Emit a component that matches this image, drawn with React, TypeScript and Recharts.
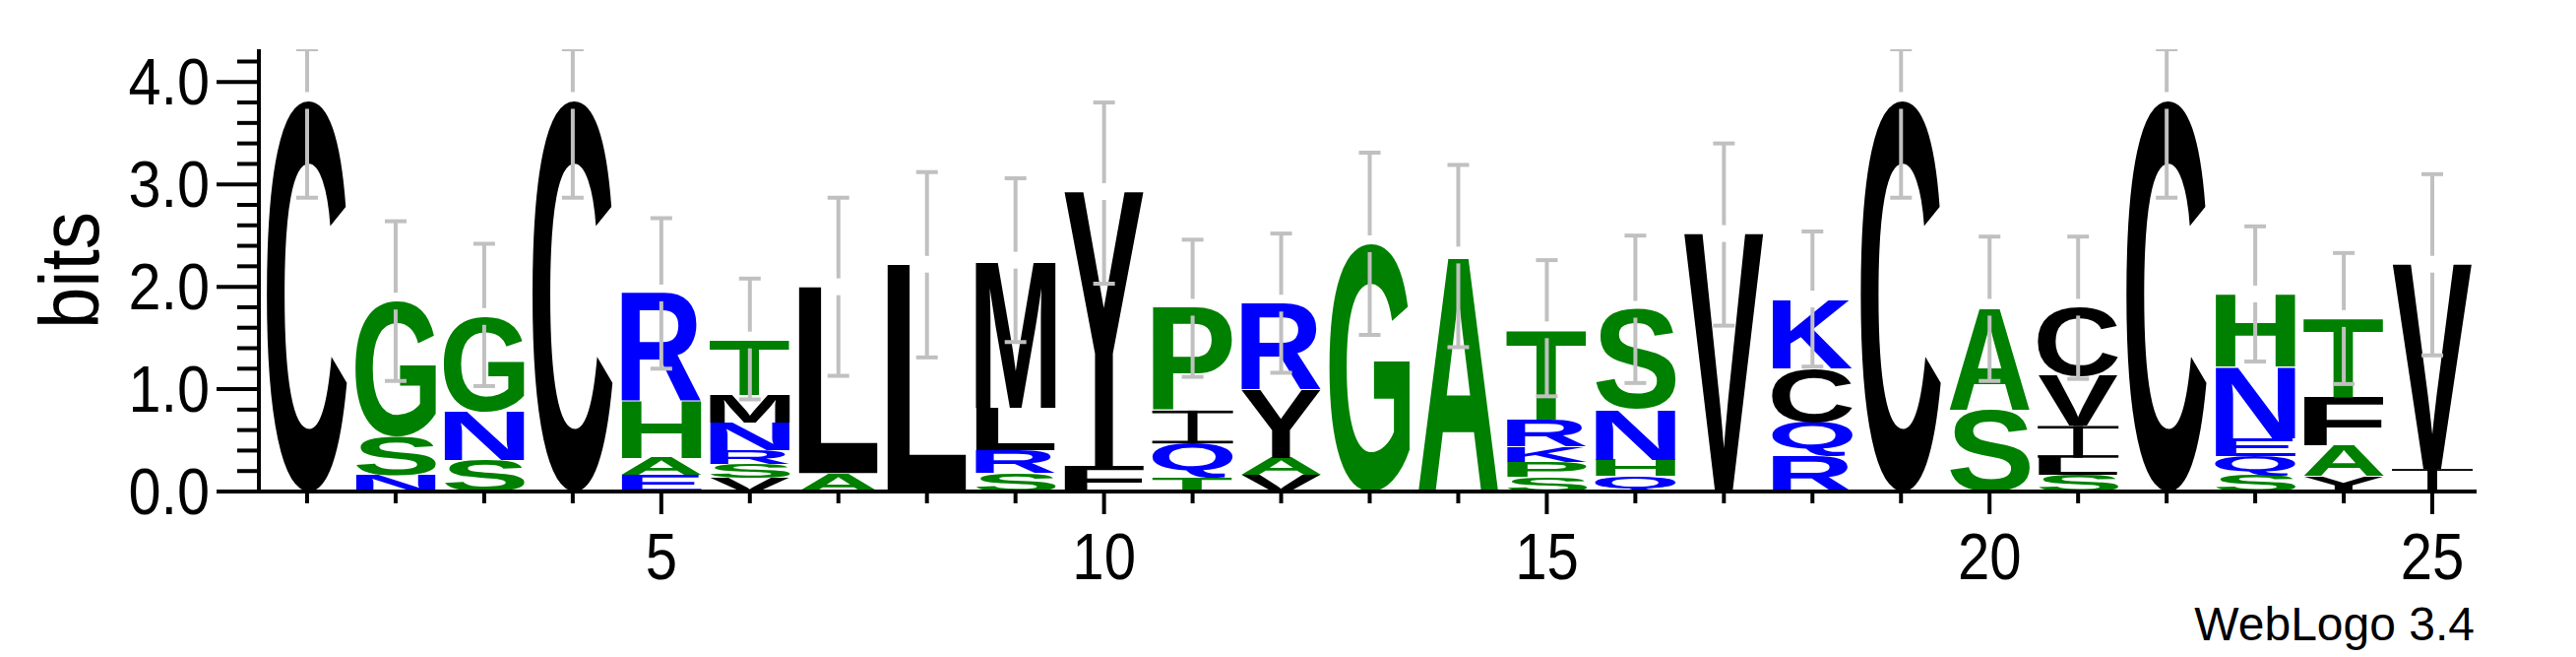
import { BarChart, Bar, XAxis, YAxis } from 'recharts';

// sequence positions
const positions = [1, 2, 3, 4, 5, 6, 7, 8, 9, 10, 11, 12, 13, 14, 15, 16, 17, 18, 19, 20, 21, 22, 23, 24, 25];

// letters in each stack, bottom -> top
const stackLetters = [
  'C', 'NSG', 'SNG', 'C', 'EAHR', 'VSRNMT', 'AL', 'L', 'SRLM', 'FY',
  'TQIP', 'VAYR', 'G', 'A', 'SPKRT', 'QHNS', 'V', 'RQCK', 'C', 'SA',
  'SLIVC', 'C', 'SQENH', 'YAFT', 'IV',
];

// letter heights in bits, same order as stackLetters
const stackBits = [
  [3.82],
  [0.16, 0.38, 1.32],
  [0.31, 0.47, 0.93],
  [3.82],
  [0.16, 0.17, 0.56, 1.05],
  [0.13, 0.14, 0.13, 0.27, 0.27, 0.54],
  [0.18, 1.82],
  [2.22],
  [0.18, 0.22, 0.42, 1.44],
  [0.25, 2.68],
  [0.14, 0.33, 0.32, 1.01],
  [0.16, 0.17, 0.67, 0.84],
  [2.42],
  [2.31],
  [0.14, 0.15, 0.15, 0.26, 0.88],
  [0.15, 0.16, 0.49, 0.98],
  [2.52],
  [0.35, 0.33, 0.52, 0.68],
  [3.82],
  [0.80, 1.00],
  [0.16, 0.17, 0.31, 0.49, 0.67],
  [3.82],
  [0.16, 0.19, 0.17, 0.70, 0.71],
  [0.15, 0.30, 0.47, 0.77],
  [0.22, 2.00],
];

// error bar ends (bits)
const errLow = [2.87, 1.08, 1.03, 2.87, 1.20, 0.90, 1.13, 1.31, 1.46, 2.03, 1.12, 1.16, 1.53, 1.41, 0.93, 1.06, 1.62, 1.22, 2.87, 1.08, 1.10, 2.87, 1.27, 1.05, 1.33];
const errHigh = [4.32, 2.64, 2.42, 4.32, 2.67, 2.08, 2.87, 3.12, 3.06, 3.80, 2.46, 2.52, 3.31, 3.19, 2.26, 2.50, 3.40, 2.54, 4.32, 2.49, 2.49, 4.32, 2.59, 2.33, 3.10];

const yTicks = [0, 0.2, 0.4, 0.6, 0.8, 1, 1.2, 1.4, 1.6, 1.8, 2, 2.2, 2.4, 2.6, 2.8, 3, 3.2, 3.4, 3.6, 3.8, 4, 4.2];

const GREEN = '#008000';
const BLUE = '#0000ff';
const BLACK = '#000000';

const colors: Record<string, string> = {
  C: BLACK, M: BLACK, V: BLACK, L: BLACK, Y: BLACK, F: BLACK, I: BLACK,
  G: GREEN, S: GREEN, H: GREEN, A: GREEN, T: GREEN, P: GREEN,
  N: BLUE, R: BLUE, E: BLUE, Q: BLUE, K: BLUE,
};

const FONT = "'Liberation Sans', Arial, sans-serif";
const FS = 100;
const MAX_STACK = 6;

// fallback ink boxes (2048 units/em): xMin, xMax, yMin, yMax
const fallbackInk: Record<string, number[]> = {
  A: [0, 1479, 0, 1466], C: [92, 1381, -25, 1491], E: [150, 1262, 0, 1466],
  F: [150, 1149, 0, 1466], G: [92, 1484, -25, 1491], H: [150, 1329, 0, 1466],
  K: [150, 1474, 0, 1466], L: [150, 1200, 0, 1466], M: [144, 1563, 0, 1466],
  N: [150, 1329, 0, 1466], P: [150, 1280, 0, 1466], Q: [82, 1542, -120, 1491],
  R: [150, 1479, 0, 1466], S: [72, 1280, -25, 1491], T: [41, 1210, 0, 1466],
  V: [0, 1366, 0, 1466], Y: [0, 1366, 0, 1466],
};

// measured ink box of a glyph at FS px: left, right, ascent, descent
const inkCache: Record<string, number[]> = {};
const inkOf = (ch: string) => {
  if (inkCache[ch]) return inkCache[ch];
  let box: number[] | null = null;
  try {
    const ctx = document.createElement('canvas').getContext('2d');
    if (ctx) {
      ctx.font = `bold ${FS}px ${FONT}`;
      const m = ctx.measureText(ch);
      if (m.actualBoundingBoxAscent > 0) {
        box = [m.actualBoundingBoxLeft, m.actualBoundingBoxRight, m.actualBoundingBoxAscent, m.actualBoundingBoxDescent];
      }
    }
  } catch (e) {
    box = null;
  }
  if (!box) {
    const f = fallbackInk[ch];
    const s = FS / 2048;
    box = [-f[0] * s, f[1] * s, f[3] * s, -f[2] * s];
  }
  inkCache[ch] = box;
  return box;
};

const rows = positions.map((pos, i) => {
  const row: any = { pos, total: 0, err: [errLow[i], errHigh[i]] };
  for (let k = 0; k < MAX_STACK; k++) {
    row['s' + k] = stackBits[i][k] || 0;
    row['l' + k] = stackLetters[i][k] || '';
    row.total += stackBits[i][k] || 0;
  }
  return row;
});

const Glyph = (props: any) => {
  const { x, y, width, height, ch } = props;
  if (!ch || !height || height <= 0) return null;
  const color = colors[ch] || BLACK;
  if (ch === 'I') {
    const t = Math.max(1.5, height * 0.08);
    const stem = width * 0.12;
    return (
      <g fill={color}>
        <rect x={x} y={y} width={width} height={t} />
        <rect x={x} y={y + height - t} width={width} height={t} />
        <rect x={x + width / 2 - stem / 2} y={y} width={stem} height={height} />
      </g>
    );
  }
  const [left, right, ascent, descent] = inkOf(ch);
  const sx = width / (left + right);
  const sy = height / (ascent + descent);
  const tf = `translate(${x},${y + height}) scale(${sx},${sy}) translate(${left},${-descent})`;
  return (
    <text x={0} y={0} fontSize={FS} fontFamily={FONT} fontWeight="bold" fill={color} transform={tf}>
      {ch}
    </text>
  );
};

const ErrBar = (props: any) => {
  const { x, width, payload } = props;
  let { y, height } = props;
  if (height < 0) {
    y = y + height;
    height = -height;
  }
  const [lo, hi] = payload.err;
  const cx = x + width / 2;
  const yTop = y + (height * (hi - payload.total)) / (hi - lo);
  const gap = 8.5;
  return (
    <g stroke="#c0c0c0" strokeWidth={4}>
      <line x1={cx} x2={cx} y1={y} y2={yTop - gap} />
      <line x1={cx} x2={cx} y1={yTop + gap} y2={y + height} />
      <line x1={x} x2={x + width} y1={y} y2={y} />
      <line x1={x} x2={x + width} y1={y + height} y2={y + height} />
    </g>
  );
};

const XTick = (props: any) => {
  const { x, y, payload } = props;
  const v = Number(payload.value);
  const major = v % 5 === 0;
  return (
    <g>
      <line x1={x} x2={x} y1={y} y2={y + (major ? 23 : 12)} stroke="#000" strokeWidth={4} />
      {major && (
        <text transform={`translate(${x},${y + 89}) scale(0.88,1)`} textAnchor="middle" fontSize={66} fontFamily={FONT} fill="#000">
          {v}
        </text>
      )}
    </g>
  );
};

const YTick = (props: any) => {
  const { x, y, payload } = props;
  const v = Number(payload.value);
  const major = Math.abs(v - Math.round(v)) < 1e-6;
  return (
    <g>
      <line x1={x - (major ? 43 : 22)} x2={x} y1={y} y2={y} stroke="#000" strokeWidth={4} />
      {major && (
        <text transform={`translate(${x - 50},${y + 23}) scale(0.9,1)`} textAnchor="end" fontSize={66} fontFamily={FONT} fill="#000">
          {v.toFixed(1)}
        </text>
      )}
    </g>
  );
};

const BitsLabel = (props: any) => {
  const vb = props.viewBox;
  const cy = vb.y + vb.height / 2;
  return (
    <text transform={`translate(100,${cy}) rotate(-90) scale(0.9,1)`} textAnchor="middle" fontSize={85} fontFamily={FONT} fill="#000">
      bits
    </text>
  );
};

const Credit = (props: any) => {
  const vb = props.viewBox;
  return (
    <text x={vb.x + vb.width - 2} y={vb.y + 151} textAnchor="end" fontSize={48} fontFamily={FONT} fill="#000">
      WebLogo 3.4
    </text>
  );
};

export default function App() {
  return (
    <div style={{ position: 'absolute', left: 0, top: 0, background: '#fff' }}>
      <BarChart width={2617} height={667} data={rows} margin={{ top: 50, right: 101, left: 0, bottom: 0 }} barGap={0}>
        <XAxis
          dataKey="pos"
          interval={0}
          height={168}
          padding={{ left: 4, right: 0 }}
          tickSize={0}
          tickMargin={0}
          tickLine={false}
          axisLine={{ stroke: '#000', strokeWidth: 4 }}
          tick={<XTick />}
          label={<Credit />}
        />
        <XAxis xAxisId="err" dataKey="pos" hide padding={{ left: 4, right: 0 }} />
        <YAxis
          type="number"
          domain={[0, 4.32]}
          ticks={yTicks}
          interval={0}
          width={263}
          tickSize={0}
          tickMargin={0}
          tickLine={false}
          allowDataOverflow
          axisLine={{ stroke: '#000', strokeWidth: 4 }}
          tick={<YTick />}
          label={<BitsLabel />}
        />
        {[0, 1, 2, 3, 4, 5].map((k) => (
          <Bar
            key={k}
            dataKey={'s' + k}
            stackId="logo"
            barSize={82}
            isAnimationActive={false}
            shape={(p: any) => <Glyph {...p} ch={p.payload['l' + k]} />}
          />
        ))}
        <Bar dataKey="err" xAxisId="err" barSize={22} isAnimationActive={false} shape={<ErrBar />} />
      </BarChart>
    </div>
  );
}
